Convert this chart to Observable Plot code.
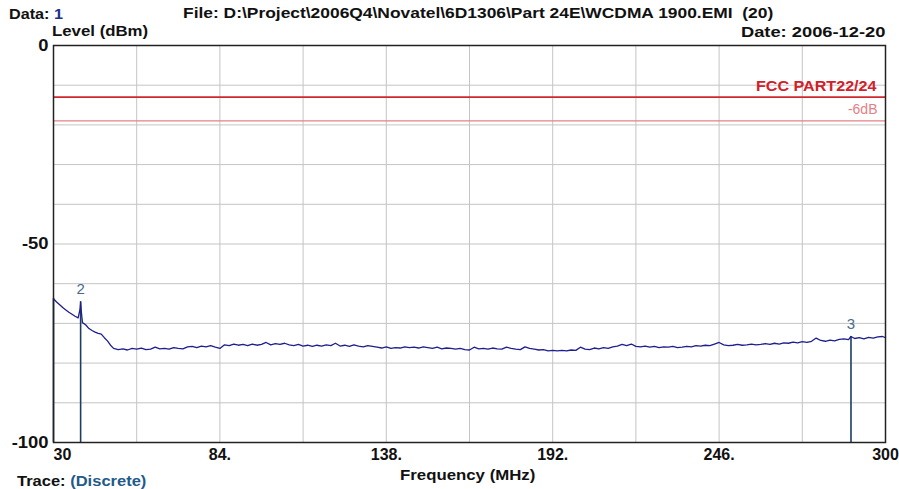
<!DOCTYPE html>
<html>
<head>
<meta charset="utf-8">
<script src="https://cdn.jsdelivr.net/npm/d3@7"></script>
<script src="https://cdn.jsdelivr.net/npm/@observablehq/plot@0.6"></script>
<style>
  html, body { margin: 0; padding: 0; background: #fff; }
  #wrap { position: relative; width: 899px; height: 489px; overflow: hidden; font-family: "Liberation Sans", Arial, sans-serif; }
  #wrap svg { position: absolute; left: 0; top: 0; }
  .t { position: absolute; font-weight: bold; font-size: 14px; color: #111; white-space: pre; line-height: 1; }
  .blue { color: #1e2e8c; }
  .dblue { color: #1f5a8a; }
</style>
</head>
<body>
<div id="wrap">
  <div class="t" style="left:9px; top:6px; font-size:15px; transform:scaleX(1.08); transform-origin:left;">Data: <span class="blue">1</span></div>
  <div class="t" style="left:183px; top:6px; font-size:14.5px; transform:scaleX(1.2); transform-origin:left;">File: D:\Project\2006Q4\Novatel\6D1306\Part 24E\WCDMA 1900.EMI  (20)</div>
  <div class="t" style="left:52px; top:23px; font-size:15px; transform:scaleX(1.12); transform-origin:left;">Level (dBm)</div>
  <div class="t" style="right:14px; top:24px; font-size:15px; transform:scaleX(1.22); transform-origin:right;">Date: 2006-12-20</div>
  <div class="t" style="left:400px; top:467px; font-size:15px; transform:scaleX(1.12); transform-origin:left;">Frequency (MHz)</div>
  <div class="t" style="left:17px; top:473px; font-size:15px; transform:scaleX(1.1); transform-origin:left;">Trace: <span class="dblue">(Discrete)</span></div>
</div>
<script>
const freqs = [30,31,32,33,34,35,36,37,38,38.6,38.8,39.0,39.4,40.5,41.5,42.5,43.5,44.5,45.5,46.5,47.5,48.5,49.5,51,52.5,54,55.5,57,58.5,60,61.5,63,64.5,66,67.5,69,70.5,72,73.5,75,76.5,78,79.5,81,82.5,84,85.5,87,88.5,90,91.5,93,94.5,96,97.5,99,100.5,102,103.5,105,106.5,108,109.5,111,112.5,114,115.5,117,118.5,120,121.5,123,124.5,126,127.5,129,130.5,132,133.5,135,136.5,138,139.5,141,142.5,144,145.5,147,148.5,150,151.5,153,154.5,156,157.5,159,160.5,162,163.5,165,166.5,168,169.5,171,172.5,174,175.5,177,178.5,180,181.5,183,184.5,186,187.5,189,190.5,192,193.5,195,196.5,198,199.5,201,202.5,204,205.5,207,208.5,210,211.5,213,214.5,216,217.5,219,220.5,222,223.5,225,226.5,228,229.5,231,232.5,234,235.5,237,238.5,240,241.5,243,244.5,246,247.5,249,250.5,252,253.5,255,256.5,258,259.5,261,262.5,264,265.5,267,268.5,270,271.5,273,274.5,276,277.5,279,280.5,282,283.5,285,286.5,288,288.8,290,291.5,293,294.5,296,297.5,299,300];
const levels = [-63.8,-64.6,-65.3,-66.0,-66.6,-67.2,-67.7,-68.2,-68.6,-66.5,-64.8,-66.8,-69.8,-70.4,-71.3,-71.8,-72.2,-72.5,-72.7,-73.6,-74.4,-75.5,-76.3,-76.6,-76.4,-76.7,-76.3,-76.5,-76.2,-76.6,-76.5,-76.0,-76.4,-76.3,-76.5,-76.1,-76.3,-76.4,-75.9,-75.8,-76.1,-75.7,-75.9,-75.6,-76.0,-76.3,-75.4,-75.6,-75.2,-75.5,-75.3,-75.6,-75.2,-75.5,-75.3,-74.8,-75.4,-75.1,-75.3,-75.0,-75.4,-75.6,-75.3,-75.7,-75.5,-75.8,-75.5,-75.7,-75.4,-75.6,-75.0,-75.7,-75.5,-75.8,-75.4,-75.7,-75.9,-75.6,-75.8,-76.0,-76.2,-75.9,-76.3,-76.1,-76.2,-75.9,-76.1,-76.0,-76.2,-75.9,-76.1,-76.3,-76.0,-76.4,-76.2,-76.3,-76.5,-76.3,-76.6,-76.7,-76.0,-76.4,-76.3,-76.5,-76.2,-76.4,-76.5,-76.0,-76.3,-76.5,-76.6,-75.9,-76.3,-76.5,-76.7,-76.6,-76.9,-76.8,-76.9,-76.8,-76.9,-76.7,-76.8,-76.0,-76.5,-76.6,-76.2,-76.4,-76.1,-76.3,-75.9,-75.7,-75.3,-75.6,-75.2,-75.8,-75.9,-75.7,-76.0,-75.8,-76.1,-75.9,-76.0,-75.8,-76.1,-76.0,-75.8,-75.9,-75.6,-75.7,-75.5,-75.6,-75.2,-74.8,-75.4,-75.6,-75.5,-75.3,-75.5,-75.4,-75.2,-75.4,-75.3,-75.1,-75.3,-75.0,-75.2,-74.9,-75.0,-74.7,-74.9,-74.6,-74.8,-74.5,-73.7,-74.3,-74.5,-74.2,-74.4,-74.0,-73.9,-74.1,-73.3,-73.8,-73.6,-73.9,-73.5,-73.7,-73.4,-73.3,-73.6];

const markerFreqs = [30, 38.8, 288.8];
const markerLevels = [-63.8, -64.5, -73.3];
const markerLabels = ["", "2", "3"];

const limitLevels = [-13, -19];
const limitLabels = ["FCC PART22/24", "-6dB"];

const xGrid = [30,57,84,111,138,165,192,219,246,273,300];
const yGrid = [0,-10,-20,-30,-40,-50,-60,-70,-80,-90,-100];
const xTicks = [30,84,138,192,246,300];
const xTickLabels = ["30","84.","138.","192.","246.","300"];
const yTicks = [0,-50,-100];
const yTickLabels = ["0","-50","-100"];

const trace = freqs.map((f, i) => ({f, v: levels[i]}));
const markers = markerFreqs.map((f, i) => ({f, v: markerLevels[i], label: markerLabels[i]}));
const fmtX = d => xTickLabels[xTicks.indexOf(d)];
const fmtY = d => yTickLabels[yTicks.indexOf(d)];

const chart = Plot.plot({
  width: 899,
  height: 489,
  marginLeft: 53,
  marginRight: 14,
  marginTop: 45,
  marginBottom: 47,
  style: {fontFamily: "Liberation Sans, Arial, sans-serif", background: "transparent"},
  x: {domain: [30, 300]},
  y: {domain: [-100, 0]},
  marks: [
    Plot.gridX(xGrid, {stroke: "#c4c4c4", strokeOpacity: 1}),
    Plot.gridY(yGrid, {stroke: "#c4c4c4", strokeOpacity: 1}),
    Plot.ruleY([limitLevels[0]], {stroke: "#d1282e", strokeWidth: 1.6}),
    Plot.ruleY([limitLevels[1]], {stroke: "#e58088", strokeWidth: 1.3}),
    Plot.text([limitLabels[0]], {x: () => 300, y: () => limitLevels[0], text: d => d, textAnchor: "end", dx: -9, dy: -11, fill: "#d1202a", fontWeight: "bold", fontSize: 14, className: "wide"}),
    Plot.text([limitLabels[1]], {x: () => 300, y: () => limitLevels[1], text: d => d, textAnchor: "end", dx: -8, dy: -11, fill: "#e58088", fontSize: 14}),
    Plot.ruleX(markers, {x: "f", y1: "v", y2: -100, stroke: "#1d3d63", strokeWidth: 1.6}),
    Plot.line(trace, {x: "f", y: "v", stroke: "#1e1e8e", strokeWidth: 1.3}),
    Plot.text(markers, {x: "f", y: "v", text: "label", dy: -12, fill: "#4a6a8c", fontSize: 15}),
    Plot.frame({stroke: "#222", strokeWidth: 1.5}),
    Plot.axisY(yTicks, {tickSize: 0, tickPadding: 5, tickFormat: fmtY, fontWeight: "bold", fontSize: 16, fill: "#111", label: null, className: "wide"}),
    Plot.axisX([xTicks[0]], {tickSize: 0, tickPadding: 6, tickFormat: fmtX, textAnchor: "start", fontWeight: "bold", fontSize: 16, fill: "#111", label: null}),
    Plot.axisX(xTicks.slice(1), {tickSize: 0, tickPadding: 6, tickFormat: fmtX, fontWeight: "bold", fontSize: 16, fill: "#111", label: null})
  ]
});
document.getElementById("wrap").prepend(chart);
// widen selected labels horizontally, as in the reference's stretched lettering
chart.querySelectorAll(".wide text").forEach(t => {
  const len = t.getComputedTextLength();
  if (len > 0) {
    t.setAttribute("textLength", (len * 1.15).toFixed(1));
    t.setAttribute("lengthAdjust", "spacingAndGlyphs");
  }
});
</script>
</body>
</html>
